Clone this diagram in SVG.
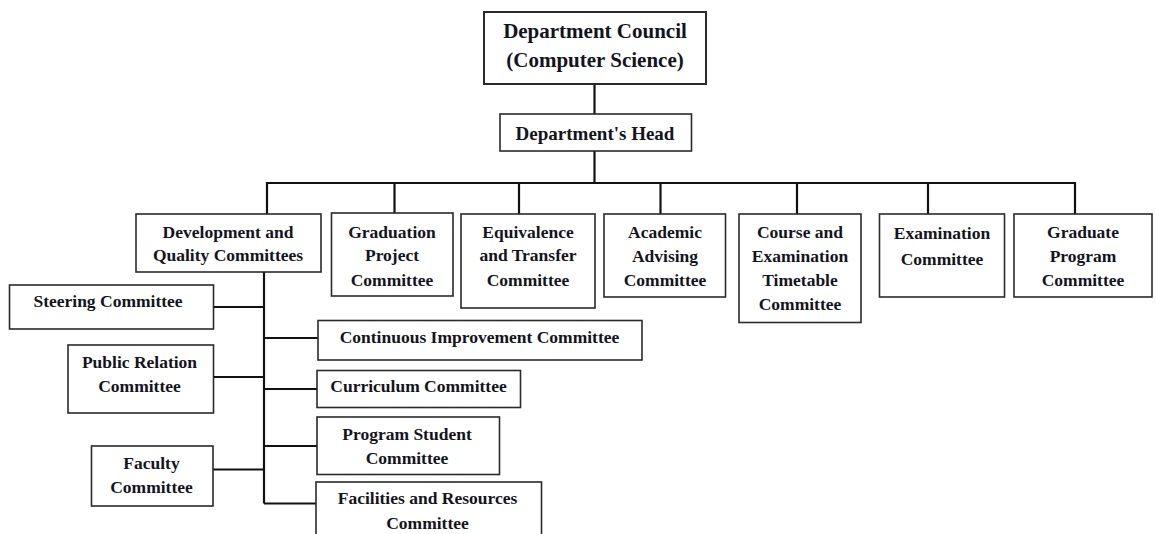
<svg xmlns="http://www.w3.org/2000/svg" width="1156" height="534" viewBox="0 0 1156 534">
<style>
.box{fill:#fff;stroke:#2a2a2a;stroke-width:1.6}
.t{font-family:"Liberation Serif","Times New Roman",serif;font-weight:bold;font-size:17.5px;fill:#141420;text-anchor:middle}
.big{font-size:21px}
.head{font-size:19px}
.c{fill:none;stroke:#111;stroke-width:2.2}
</style>
<rect width="1156" height="534" fill="#fff"/>
<g id="connectors">
<line class="c" x1="594.5" y1="84" x2="594.5" y2="114"/>
<line class="c" x1="594.5" y1="151" x2="594.5" y2="183"/>
<polyline class="c" points="267,214 267,183 1075,183 1075,214"/>
<line class="c" x1="394.5" y1="183" x2="394.5" y2="213"/>
<line class="c" x1="519" y1="183" x2="519" y2="214"/>
<line class="c" x1="660.5" y1="183" x2="660.5" y2="214"/>
<line class="c" x1="797" y1="183" x2="797" y2="214"/>
<line class="c" x1="928" y1="183" x2="928" y2="214"/>
<line class="c" x1="264" y1="272" x2="264" y2="503.5"/>
<line class="c" x1="214" y1="307" x2="264" y2="307"/>
<line class="c" x1="264" y1="338" x2="318" y2="338"/>
<line class="c" x1="214" y1="377" x2="264" y2="377"/>
<line class="c" x1="264" y1="389" x2="317" y2="389"/>
<line class="c" x1="264" y1="446" x2="317" y2="446"/>
<line class="c" x1="213" y1="469.5" x2="264" y2="469.5"/>
<line class="c" x1="264" y1="503.5" x2="316" y2="503.5"/>
</g>
<g id="council"><rect class="box" x="484" y="12" width="222" height="72" style="stroke-width:2"/>
<text class="t big" x="595" y="38">Department Council</text><text class="t big" x="595" y="67">(Computer Science)</text></g>
<g id="head"><rect class="box" x="500" y="114" width="191.5" height="37"/>
<text class="t head" x="595" y="139.5">Department's Head</text></g>
<g id="devq"><rect class="box" x="136" y="214" width="185" height="58"/>
<text class="t" x="228" y="237.5">Development and</text><text class="t" x="228" y="261">Quality Committees</text></g>
<g id="gradproj"><rect class="box" x="331.5" y="213" width="121.5" height="83"/>
<text class="t" x="392" y="237.5">Graduation</text><text class="t" x="392" y="261">Project</text><text class="t" x="392" y="285.5">Committee</text></g>
<g id="equiv"><rect class="box" x="461" y="214" width="134" height="94"/>
<text class="t" x="528" y="237.5">Equivalence</text><text class="t" x="528" y="261">and Transfer</text><text class="t" x="528" y="285.5">Committee</text></g>
<g id="academic"><rect class="box" x="604" y="214" width="121.5" height="83"/>
<text class="t" x="665" y="237.5">Academic</text><text class="t" x="665" y="261.5">Advising</text><text class="t" x="665" y="285.5">Committee</text></g>
<g id="course"><rect class="box" x="739" y="214" width="122" height="108.5"/>
<text class="t" x="800" y="237.5">Course and</text><text class="t" x="800" y="261.5">Examination</text><text class="t" x="800" y="285.5">Timetable</text><text class="t" x="800" y="310">Committee</text></g>
<g id="exam"><rect class="box" x="879.5" y="214" width="125" height="83"/>
<text class="t" x="942" y="239">Examination</text><text class="t" x="942" y="265">Committee</text></g>
<g id="graduate"><rect class="box" x="1014" y="214" width="138" height="83"/>
<text class="t" x="1083" y="237.5">Graduate</text><text class="t" x="1083" y="261.5">Program</text><text class="t" x="1083" y="285.5">Committee</text></g>
<g id="steering"><rect class="box" x="9.5" y="285" width="204" height="44"/>
<text class="t" x="108" y="306.5">Steering Committee</text></g>
<g id="continuous"><rect class="box" x="318" y="320.5" width="324" height="39.5"/>
<text class="t" x="479.5" y="342.5">Continuous Improvement Committee</text></g>
<g id="public"><rect class="box" x="68" y="345" width="145.5" height="68"/>
<text class="t" x="139.5" y="367.5">Public Relation</text><text class="t" x="139.5" y="392">Committee</text></g>
<g id="curriculum"><rect class="box" x="317" y="370.5" width="203.5" height="37"/>
<text class="t" x="418.5" y="392">Curriculum Committee</text></g>
<g id="program"><rect class="box" x="317" y="417" width="182.5" height="57.5"/>
<text class="t" x="407" y="439.5">Program Student</text><text class="t" x="407" y="464">Committee</text></g>
<g id="faculty"><rect class="box" x="91.5" y="446" width="121.5" height="60"/>
<text class="t" x="151.5" y="469">Faculty</text><text class="t" x="151.5" y="492.5">Committee</text></g>
<g id="facilities"><rect class="box" x="316" y="482" width="225.5" height="60"/>
<text class="t" x="427.5" y="504">Facilities and Resources</text><text class="t" x="427.5" y="528.5">Committee</text></g>
</svg>
